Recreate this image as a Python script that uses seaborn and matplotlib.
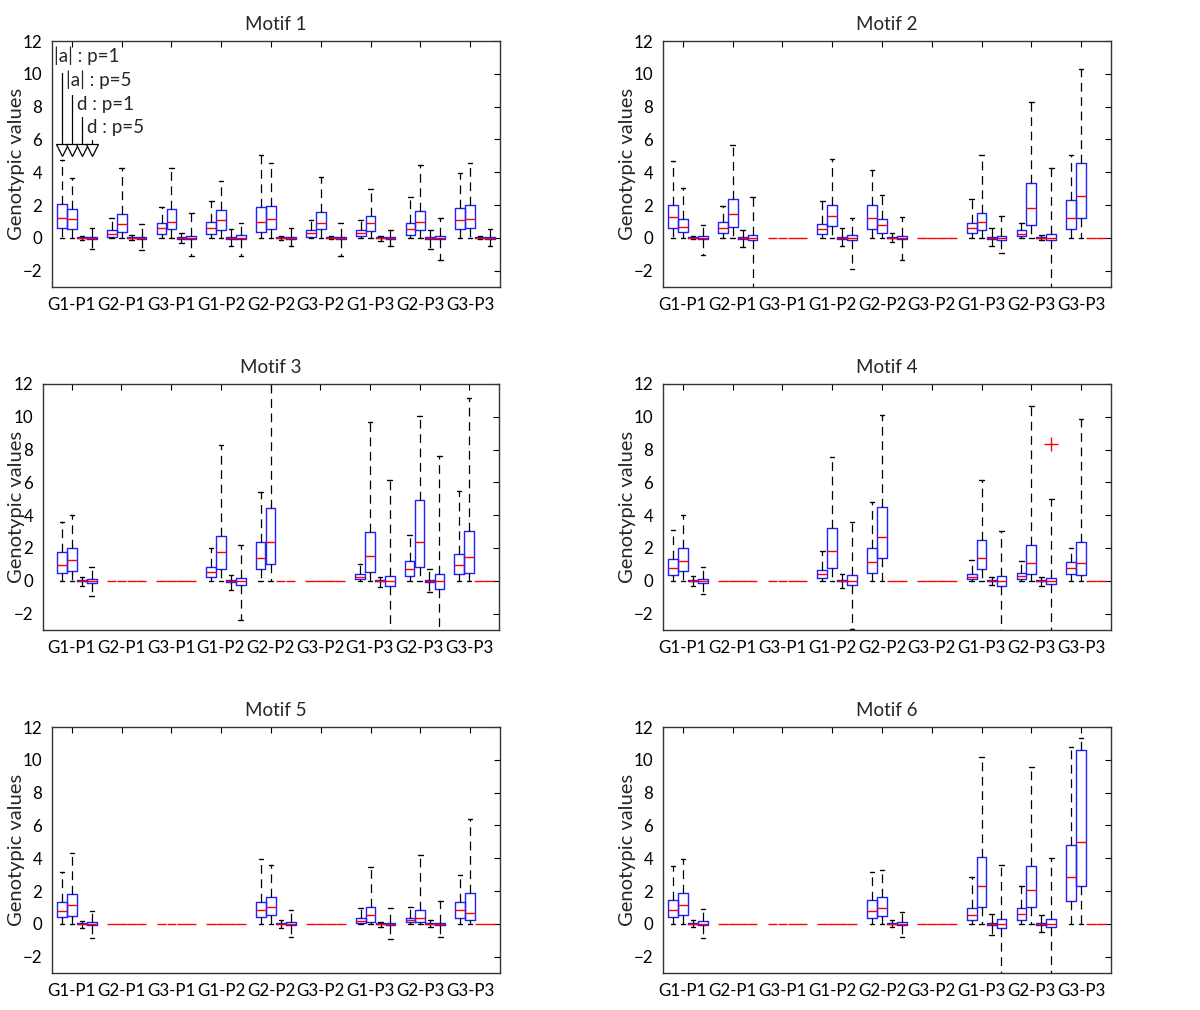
import matplotlib
matplotlib.use("Agg")
import matplotlib.pyplot as plt
import seaborn as sns

sns.set_theme(style="white")
plt.rcParams['font.family'] = ['Lato', 'DejaVu Sans']

# ------------------------------------------------------------
# Data: 9 genotype/population groups x 4 effects per group
# (|a| p=1, |a| p=5, d p=1, d p=5); box stats
# ------------------------------------------------------------
groups = ['G1-P1', 'G2-P1', 'G3-P1', 'G1-P2', 'G2-P2', 'G3-P2', 'G1-P3', 'G2-P3', 'G3-P3']
effects = ['|a| : p=1', '|a| : p=5', 'd : p=1', 'd : p=5']
titles = ['Motif 1', 'Motif 2', 'Motif 3', 'Motif 4', 'Motif 5', 'Motif 6']

# Motif 1
m1_q1 = [0.62, 0.55, -0.04, -0.07,  0.06, 0.37, -0.04, -0.06,  0.25, 0.51, -0.06, -0.08,
         0.25, 0.47, -0.06, -0.10,  0.37, 0.55, -0.04, -0.06,  0.06, 0.51, -0.03, -0.05,
         0.10, 0.41, -0.04, -0.06,  0.20, 0.45, -0.06, -0.05,  0.51, 0.59, -0.03, -0.05]
m1_med = [1.23, 1.13, 0, 0,  0.25, 0.82, 0, 0,  0.57, 0.98, 0, 0,
          0.60, 1.09, 0, 0,  0.98, 1.13, 0, 0,  0.27, 0.92, 0, 0,
          0.31, 0.88, 0, 0,  0.51, 0.96, 0, 0,  1.09, 1.17, 0, 0]
m1_q3 = [2.05, 1.78, 0.04, 0.07,  0.45, 1.44, 0.04, 0.06,  0.92, 1.74, 0.06, 0.08,
         0.96, 1.68, 0.06, 0.15,  1.90, 1.95, 0.04, 0.06,  0.45, 1.60, 0.03, 0.05,
         0.47, 1.33, 0.04, 0.06,  0.88, 1.64, 0.06, 0.10,  1.80, 1.99, 0.03, 0.05]
m1_lo = [0, 0, -0.12, -0.68,  0, 0, -0.15, -0.72,  0, 0, -0.31, -1.09,
         0, 0, -0.47, -1.09,  0, 0, -0.14, -0.47,  0, 0, -0.10, -1.13,
         0, 0, -0.18, -0.51,  0, 0, -0.68, -1.37,  0, 0, -0.06, -0.47]
m1_hi = [4.72, 3.63, 0.12, 0.62,  1.23, 4.27, 0.20, 0.82,  1.85, 4.25, 0.31, 1.50,
         2.26, 3.49, 0.51, 0.88,  5.07, 4.55, 0.14, 0.60,  1.07, 3.73, 0.14, 0.88,
         1.09, 2.97, 0.14, 0.47,  2.50, 4.41, 0.47, 1.23,  3.96, 4.55, 0.10, 0.55]

# Motif 2
m2_q1 = [0.61, 0.36, -0.04, -0.08,  0.30, 0.65, -0.05, -0.14,  0, 0, 0, 0,
         0.24, 0.71, -0.05, -0.16,  0.51, 0.30, -0.04, -0.05,  0, 0, 0, 0,
         0.30, 0.45, -0.05, -0.12,  0.10, 0.77, -0.04, -0.14,  0.55, 1.18, 0, 0]
m2_med = [1.26, 0.67, 0, 0,  0.57, 1.48, 0, 0,  0, 0, 0, 0,
          0.55, 1.32, 0, 0,  1.18, 0.75, 0, 0,  0, 0, 0, 0,
          0.61, 0.95, 0, 0,  0.26, 1.82, 0, 0,  1.22, 2.57, 0, 0]
m2_q3 = [2.03, 1.16, 0.04, 0.10,  0.95, 2.39, 0.05, 0.20,  0, 0, 0, 0,
         0.87, 1.99, 0.05, 0.15,  1.99, 1.16, 0.04, 0.12,  0, 0, 0, 0,
         0.91, 1.52, 0.05, 0.12,  0.47, 3.34, 0.04, 0.24,  2.29, 4.56, 0, 0]
m2_lo = [0, 0, -0.08, -1.05,  0, 0, -0.55, -3.5,  0, 0, 0, 0,
         0, 0, -0.47, -1.93,  0, 0, -0.24, -1.36,  0, 0, 0, 0,
         0, 0, -0.47, -0.91,  0, 0, -0.14, -3.5,  0, 0, 0, 0]
m2_hi = [4.70, 3.02, 0.08, 0.81,  1.93, 5.68, 0.47, 2.47,  0, 0, 0, 0,
         2.27, 4.80, 0.59, 1.18,  4.12, 2.64, 0.30, 1.26,  0, 0, 0, 0,
         2.37, 5.05, 0.61, 1.32,  0.91, 8.25, 0.16, 4.24,  5.05, 10.28, 0, 0]

# Motif 3
m3_q1 = [0.47, 0.61, -0.04, -0.14,  0, 0, 0, 0,  0, 0, 0, 0,
         0.22, 0.75, -0.05, -0.24,  0.71, 1.02, 0, 0,  0, 0, 0, 0,
         0.10, 0.53, -0.04, -0.30,  0.30, 0.83, -0.06, -0.49,  0.43, 0.47, 0, 0]
m3_med = [0.96, 1.28, 0, 0,  0, 0, 0, 0,  0, 0, 0, 0,
          0.53, 1.75, 0, 0,  1.42, 2.34, 0, 0,  0, 0, 0, 0,
          0.26, 1.53, 0, 0,  0.73, 2.38, 0, 0,  0.96, 1.48, 0, 0]
m3_q3 = [1.73, 1.99, 0.04, 0.10,  0, 0, 0, 0,  0, 0, 0, 0,
         0.83, 2.75, 0.05, 0.18,  2.38, 4.43, 0, 0,  0, 0, 0, 0,
         0.41, 2.99, 0.04, 0.30,  1.22, 4.94, 0.06, 0.41,  1.63, 3.01, 0, 0]
m3_lo = [0, 0, -0.30, -0.92,  0, 0, 0, 0,  0, 0, 0, 0,
         0, 0, -0.59, -2.38,  0, 0, 0, 0,  0, 0, 0, 0,
         0, 0, -0.35, -3.5,  0, 0, -0.69, -3.5,  0, 0, 0, 0]
m3_hi = [3.56, 4.03, 0.22, 0.83,  0, 0, 0, 0,  0, 0, 0, 0,
         2.00, 8.30, 0.37, 2.20,  5.41, 12.5, 0, 0,  0, 0, 0, 0,
         1.02, 9.66, 0.26, 6.12,  2.81, 10.03, 0.71, 7.63,  5.45, 11.15, 0, 0]

# Motif 4
m4_q1 = [0.33, 0.57, -0.04, -0.14,  0, 0, 0, 0,  0, 0, 0, 0,
         0.16, 0.77, -0.04, -0.24,  0.47, 1.36, 0, 0,  0, 0, 0, 0,
         0.10, 0.71, -0.04, -0.30,  0.12, 0.41, -0.04, -0.18,  0.41, 0.33, 0, 0]
m4_med = [0.81, 1.22, 0, 0,  0, 0, 0, 0,  0, 0, 0, 0,
          0.41, 1.79, 0, 0,  1.14, 2.66, 0, 0,  0, 0, 0, 0,
          0.26, 1.42, 0, 0,  0.30, 1.08, 0, 0,  0.81, 1.08, 0, 0]
m4_q3 = [1.32, 1.99, 0.04, 0.14,  0, 0, 0, 0,  0, 0, 0, 0,
         0.63, 3.21, 0.04, 0.37,  1.99, 4.47, 0, 0,  0, 0, 0, 0,
         0.43, 2.46, 0.04, 0.30,  0.47, 2.16, 0.04, 0.16,  1.14, 2.34, 0, 0]
m4_lo = [0, 0, -0.30, -0.81,  0, 0, 0, 0,  0, 0, 0, 0,
         0, 0, -0.41, -2.95,  0, 0, 0, 0,  0, 0, 0, 0,
         0, 0, -0.24, -3.5,  0, 0, -0.30, -3.5,  0, 0, 0, 0]
m4_hi = [3.11, 4.03, 0.30, 0.83,  0, 0, 0, 0,  0, 0, 0, 0,
         1.83, 7.55, 0.41, 3.58,  4.80, 10.13, 0, 0,  0, 0, 0, 0,
         1.28, 6.16, 0.26, 3.05,  1.22, 10.64, 0.26, 5.00,  1.99, 9.88, 0, 0]
m4_outlier_box = 31          # G2-P3, d : p=5
m4_outlier_val = 8.34

# Motif 5
m5_q1 = [0.41, 0.47, -0.04, -0.10,  0, 0, 0, 0,  0, 0, 0, 0,
         0, 0, 0, 0,  0.43, 0.51, -0.04, -0.08,  0, 0, 0, 0,
         0.06, 0.12, -0.03, -0.06,  0.10, 0.12, -0.03, -0.06,  0.33, 0.22, 0, 0]
m5_med = [0.77, 1.12, 0, 0,  0, 0, 0, 0,  0, 0, 0, 0,
          0, 0, 0, 0,  0.87, 1.02, 0, 0,  0, 0, 0, 0,
          0.20, 0.51, 0, 0,  0.22, 0.37, 0, 0,  0.83, 0.63, 0, 0]
m5_q3 = [1.34, 1.83, 0.04, 0.12,  0, 0, 0, 0,  0, 0, 0, 0,
         0, 0, 0, 0,  1.34, 1.64, 0.04, 0.10,  0, 0, 0, 0,
         0.37, 1.04, 0.03, 0.06,  0.35, 0.83, 0.03, 0.06,  1.34, 1.85, 0, 0]
m5_lo = [0, 0, -0.24, -0.87,  0, 0, 0, 0,  0, 0, 0, 0,
         0, 0, 0, 0,  0, 0, -0.28, -0.81,  0, 0, 0, 0,
         0, 0, -0.18, -0.95,  0, 0, -0.18, -0.79,  0, 0, 0, 0]
m5_hi = [3.17, 4.32, 0.16, 0.77,  0, 0, 0, 0,  0, 0, 0, 0,
         0, 0, 0, 0,  3.98, 3.57, 0.26, 0.87,  0, 0, 0, 0,
         0.97, 3.47, 0.12, 0.95,  1.04, 4.18, 0.26, 1.38,  3.00, 6.36, 0, 0]

# Motif 6
m6_q1 = [0.43, 0.53, -0.04, -0.10,  0, 0, 0, 0,  0, 0, 0, 0,
         0, 0, 0, 0,  0.37, 0.47, -0.04, -0.08,  0, 0, 0, 0,
         0.26, 1.02, -0.05, -0.28,  0.26, 1.04, -0.05, -0.20,  1.38, 2.29, 0, 0]
m6_med = [0.87, 1.12, 0, 0,  0, 0, 0, 0,  0, 0, 0, 0,
          0, 0, 0, 0,  0.81, 0.97, 0, 0,  0, 0, 0, 0,
          0.53, 2.29, 0, 0,  0.57, 2.05, 0, 0,  2.86, 5.00, 0, 0]
m6_q3 = [1.44, 1.89, 0.04, 0.16,  0, 0, 0, 0,  0, 0, 0, 0,
         0, 0, 0, 0,  1.44, 1.62, 0.04, 0.12,  0, 0, 0, 0,
         0.97, 4.08, 0.05, 0.30,  0.97, 3.51, 0.05, 0.30,  4.79, 10.62, 0, 0]
m6_lo = [0, 0, -0.20, -0.89,  0, 0, 0, 0,  0, 0, 0, 0,
         0, 0, 0, 0,  0, 0, -0.20, -0.79,  0, 0, 0, 0,
         0, 0, -0.69, -3.5,  0, 0, -0.49, -3.5,  0, 0, 0, 0]
m6_hi = [3.51, 3.98, 0.26, 0.91,  0, 0, 0, 0,  0, 0, 0, 0,
         0, 0, 0, 0,  3.17, 3.31, 0.26, 0.71,  0, 0, 0, 0,
         2.86, 10.17, 0.61, 3.57,  2.29, 9.54, 0.53, 4.00,  10.80, 11.30, 0, 0]

motifs = [
    (m1_q1, m1_med, m1_q3, m1_lo, m1_hi),
    (m2_q1, m2_med, m2_q3, m2_lo, m2_hi),
    (m3_q1, m3_med, m3_q3, m3_lo, m3_hi),
    (m4_q1, m4_med, m4_q3, m4_lo, m4_hi),
    (m5_q1, m5_med, m5_q3, m5_lo, m5_hi),
    (m6_q1, m6_med, m6_q3, m6_lo, m6_hi),
]

# ------------------------------------------------------------
# Layout (pixel boxes of each panel in the 1200x1010 figure)
# ------------------------------------------------------------
W, H = 1200, 1010
panel_px = [(52, 41, 448), (663, 41, 448),
            (43, 384, 456), (663, 384, 448),
            (52, 727, 448), (663, 727, 448)]
panel_h = 246
panel_xmin = [0, 0, -0.9, 0, 0, 0]
positions = [5 * g + k + 1 for g in range(9) for k in range(4)]
tick_pos = [5 * g + 2 for g in range(9)]

BLUE = '#1f1fff'

fig = plt.figure(figsize=(W / 100, H / 100), dpi=100)

for i, (q1, med, q3, lo, hi) in enumerate(motifs):
    left, top, width = panel_px[i]
    ax = fig.add_axes([left / W, 1 - (top + panel_h) / H, width / W, panel_h / H])

    stats = []
    for j in range(len(positions)):
        fl = [m4_outlier_val] if (i == 3 and j == m4_outlier_box) else []
        stats.append(dict(q1=q1[j], med=med[j], q3=q3[j],
                          whislo=lo[j], whishi=hi[j], fliers=fl))

    art = ax.bxp(stats, positions=positions, widths=0.98, capwidths=0.45,
                 manage_ticks=False, showfliers=True,
                 boxprops=dict(color=BLUE, lw=1.0),
                 medianprops=dict(color='red', lw=1.0),
                 whiskerprops=dict(color='black', lw=0.9, linestyle=(0, (7, 4.5))),
                 capprops=dict(color='black', lw=1.0),
                 flierprops=dict(marker='+', markeredgecolor='red', markersize=10,
                                 markeredgewidth=1.0, linestyle='none'))

    # flat (all-zero) entries show only as a red line at 0
    for j in range(len(positions)):
        if q1[j] == q3[j] == lo[j] == hi[j] == 0:
            art['boxes'][j].set_visible(False)
            art['caps'][2 * j].set_visible(False)
            art['caps'][2 * j + 1].set_visible(False)
            art['whiskers'][2 * j].set_visible(False)
            art['whiskers'][2 * j + 1].set_visible(False)

    ax.set_xlim(panel_xmin[i], 45)
    ax.set_ylim(-3, 12)
    ax.set_xticks(tick_pos)
    ax.set_xticklabels(groups)
    ax.set_yticks(range(-2, 13, 2))
    ax.tick_params(direction='in', length=4, width=0.8, top=True, right=True,
                   labelsize=12.2, colors='black', pad=7)
    for sp in ax.spines.values():
        sp.set_color('#333333')
        sp.set_linewidth(1.0)
    ax.set_title(titles[i], fontsize=13.5, pad=8)
    ax.set_ylabel('Genotypic values', fontsize=14.5)
    ax.yaxis.set_label_coords((25 if left < 600 else 636) / width - left / width, 0.5)

    # effect key drawn in the first panel
    if i == 0:
        key_text_x = [0.25, 1.4, 2.5, 3.5]
        key_text_y = [11.1, 9.65, 8.15, 6.7]
        key_line_top = [10.05, 8.72, 7.38, 5.95]
        for k in range(4):
            ax.text(key_text_x[k], key_text_y[k], effects[k], fontsize=13.5,
                    ha='left', va='center')
            ax.plot([positions[k], positions[k]], [key_line_top[k], 5.62],
                    color='black', lw=0.9)
            ax.plot(positions[k], 5.38, marker='v', markersize=8,
                    markerfacecolor='white', markeredgecolor='black',
                    markeredgewidth=0.9)

fig.savefig('out.png', dpi=100)
